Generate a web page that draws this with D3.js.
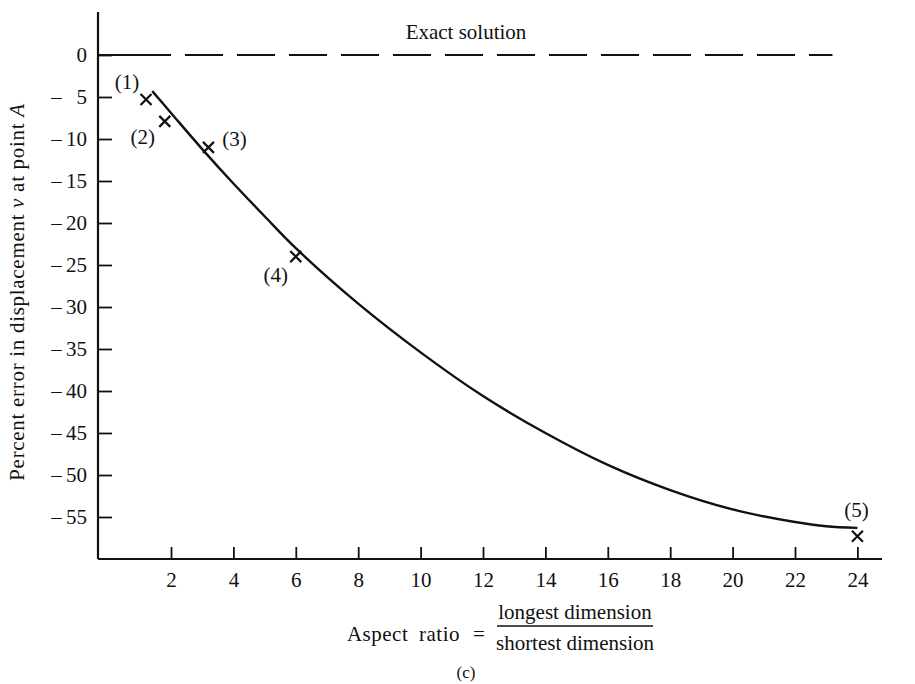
<!DOCTYPE html>
<html><head><meta charset="utf-8">
<script src="https://cdn.jsdelivr.net/npm/d3@7"></script>
<style>
body{margin:0;background:#fff;}
text{font-family:"Liberation Serif","Times New Roman",serif;fill:#111;}
</style></head>
<body>
<svg id="chart" width="915" height="684"></svg>
<script>
// ---- data ----
const xTicks = [2,4,6,8,10,12,14,16,18,20,22,24];
const yTicks = [0,-5,-10,-15,-20,-25,-30,-35,-40,-45,-50,-55];
const pointX = [1.2, 1.8, 3.2, 6.0, 24];
const pointY = [-5.3, -7.9, -11.0, -24.0, -57.3];
const pointLabels = ["(1)","(2)","(3)","(4)","(5)"];
const curveX = [1.4, 2, 3, 4, 5, 6, 8, 10, 12, 14, 16, 18, 20, 22, 23, 24];
const curveY = [-4.3, -6.9, -11.2, -15.3, -19.2, -23.0, -29.6, -35.4, -40.6, -45.0, -48.8, -51.8, -54.1, -55.6, -56.1, -56.3];
const exactX = [0, 23.2];
const exactY = [0, 0];
const exactLabel = "Exact solution";

// ---- scales ----
const svg = d3.select("#chart");
const x = d3.scaleLinear().domain([0, 24]).range([108.6, 857.4]);
const y = d3.scaleLinear().domain([0, -55]).range([55, 517]);
const axisX0 = 98, axisY0 = 559, axisTop = 12, axisRight = 882;
const FS = 21;

// axes lines
svg.append("line").attr("x1", axisX0).attr("x2", axisX0).attr("y1", axisTop).attr("y2", axisY0)
  .attr("stroke", "#111").attr("stroke-width", 2.2);
svg.append("line").attr("x1", axisX0).attr("x2", axisRight).attr("y1", axisY0).attr("y2", axisY0)
  .attr("stroke", "#111").attr("stroke-width", 2.2);

// y axis ticks (inward)
const fmtY = d => d === 0 ? "0" :
  "\u2013\u2009" + (Math.abs(d) < 10 ? "\u2007" : "") + Math.abs(d);
const yAxis = d3.axisLeft(y).tickValues(yTicks).tickSizeInner(-14).tickSizeOuter(0).tickPadding(11)
  .tickFormat(fmtY);
const gy = svg.append("g").attr("transform", `translate(${axisX0},0)`).call(yAxis);
gy.select(".domain").remove();
gy.selectAll(".tick line").attr("stroke", "#111").attr("stroke-width", 1.8);
gy.selectAll(".tick text").attr("font-size", FS).attr("font-family", "Liberation Serif").attr("fill", "#111");

// x axis ticks (inward)
const xAxis = d3.axisBottom(x).tickValues(xTicks).tickSizeInner(-12).tickSizeOuter(0).tickPadding(13);
const gx = svg.append("g").attr("transform", `translate(0,${axisY0})`).call(xAxis);
gx.select(".domain").remove();
gx.selectAll(".tick line").attr("stroke", "#111").attr("stroke-width", 1.8);
gx.selectAll(".tick text").attr("font-size", FS).attr("font-family", "Liberation Serif").attr("fill", "#111");

// exact solution line
const ex0 = axisX0, ex1 = x(exactX[1]), ey = y(exactY[0]);
svg.append("line").attr("x1", ex0).attr("x2", x(2)).attr("y1", ey).attr("y2", ey)
  .attr("stroke", "#111").attr("stroke-width", 2);
svg.append("line").attr("x1", x(2) + 14).attr("x2", ex1).attr("y1", ey).attr("y2", ey)
  .attr("stroke", "#111").attr("stroke-width", 2).attr("stroke-dasharray", "38,14");
svg.append("text").attr("x", 466).attr("y", 39).attr("text-anchor", "middle")
  .attr("font-size", FS).text(exactLabel);

// curve
const curveData = curveX.map((d, i) => [d, curveY[i]]);
svg.append("path").datum(curveData)
  .attr("d", d3.line().x(d => x(d[0])).y(d => y(d[1])).curve(d3.curveCatmullRom.alpha(0.5)))
  .attr("fill", "none").attr("stroke", "#111").attr("stroke-width", 2.4);

// points
const pts = pointX.map((d, i) => ({x: d, y: pointY[i], label: pointLabels[i]}));
const s = 5.5;
const gp = svg.append("g");
pts.forEach(p => {
  const cx = x(p.x), cy = y(p.y);
  gp.append("path").attr("d", `M${cx-s},${cy-s}L${cx+s},${cy+s}M${cx+s},${cy-s}L${cx-s},${cy+s}`)
    .attr("stroke", "#111").attr("stroke-width", 2.2).attr("fill", "none");
});
const labelOffsets = [[-19, -18], [-22, 15], [26, -9], [-20, 18], [-1, -27]];
pts.forEach((p, i) => {
  svg.append("text").attr("x", x(p.x) + labelOffsets[i][0]).attr("y", y(p.y) + labelOffsets[i][1])
    .attr("dy", "0.35em").attr("text-anchor", "middle").attr("font-size", FS).text(p.label);
});

// y axis title
const yt = svg.append("text").attr("transform", "translate(24,292) rotate(-90)")
  .attr("text-anchor", "middle").attr("font-size", FS).attr("letter-spacing", 0.7);
yt.append("tspan").text("Percent error in displacement ");
yt.append("tspan").attr("font-style", "italic").text("v");
yt.append("tspan").text(" at point ");
yt.append("tspan").attr("font-style", "italic").text("A");

// x axis title with fraction
const gt = svg.append("g");
gt.append("text").attr("x", 460).attr("y", 641).attr("text-anchor", "end").attr("font-size", FS)
  .attr("word-spacing", 5).attr("letter-spacing", 0.5).text("Aspect ratio");
gt.append("text").attr("x", 479).attr("y", 641).attr("text-anchor", "middle").attr("font-size", FS).text("=");
gt.append("text").attr("x", 575).attr("y", 619).attr("text-anchor", "middle").attr("font-size", FS).text("longest dimension");
gt.append("line").attr("x1", 497).attr("x2", 653).attr("y1", 626).attr("y2", 626).attr("stroke", "#111").attr("stroke-width", 1.4);
gt.append("text").attr("x", 575).attr("y", 650).attr("text-anchor", "middle").attr("font-size", FS).text("shortest dimension");
gt.append("text").attr("x", 466).attr("y", 678).attr("text-anchor", "middle").attr("font-size", 17).text("(c)");
</script>
</body></html>
